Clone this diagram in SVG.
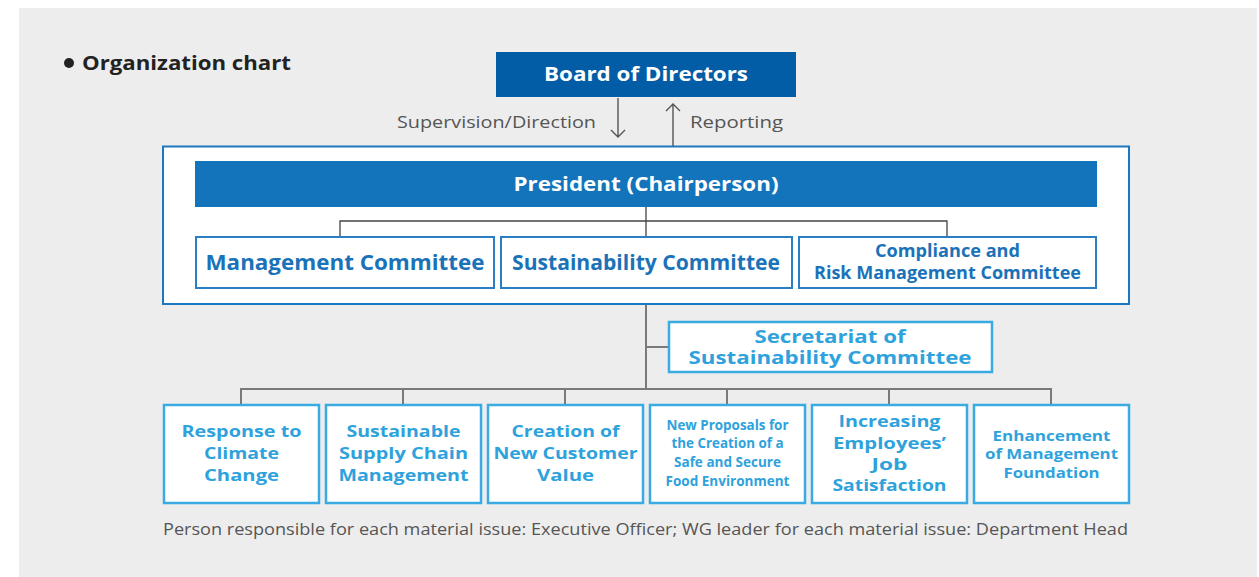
<svg xmlns="http://www.w3.org/2000/svg" width="1259" height="577" viewBox="0 0 1259 577">
  <defs>
    <style>
      .bold { font-family: "Open Sans", "Liberation Sans", sans-serif; font-weight: 700; }
      .reg { font-family: "Open Sans", "Liberation Sans", sans-serif; font-weight: 400; }
      .white { fill: #ffffff; }
      .dk { fill: #1a72b9; }
      .lt { fill: #2ea2dc; }
      .gray { fill: #555555; }
      .cbox { fill: #ffffff; stroke: #2a7fc4; stroke-width: 2; }
      .ibox { fill: #ffffff; stroke: #3aabe2; stroke-width: 2.5; }
      .inner { fill: none; stroke: #444444; stroke-width: 1.3; }
      .outer { fill: none; stroke: #7a7a7a; stroke-width: 2; }
      .arr { fill: none; stroke: #555555; stroke-width: 1.4; }
    </style>
  </defs>

  <!-- page background -->
  <rect x="0" y="0" width="1259" height="577" fill="#ffffff"/>
  <rect x="19" y="8" width="1238" height="569" fill="#ededed"/>

  <!-- heading -->
  <g id="heading">
    <circle cx="69" cy="63" r="5" fill="#222222"/>
    <text class="bold" x="82" y="70" font-size="19" fill="#222222" textLength="209" lengthAdjust="spacingAndGlyphs">Organization chart</text>
  </g>

  <!-- executive frame (drawn first so the connectors sit on top of it) -->
  <g id="executive-frame">
    <rect x="163" y="146.5" width="966" height="157.5" fill="#ffffff" stroke="#1d77bf" stroke-width="2"/>
  </g>

  <!-- connectors -->
  <g id="connectors">
    <!-- supervision / reporting arrows -->
    <path class="arr" d="M618 98 V137 M611 130 L618 137 L625 130"/>
    <path class="arr" d="M673 146 V104 M666 111 L673 104 L680 111"/>
    <!-- president to committees -->
    <path class="inner" d="M646 207 V236 M340 236 V221 H947 V236"/>
    <!-- frame to secretariat and material issue teams -->
    <path class="outer" d="M646 305 V389 M646 347 H669"/>
    <path class="outer" d="M241 404 V389 H1051 V404 M403 389 V404 M565 389 V404 M727 389 V404 M889 389 V404"/>
  </g>

  <g id="board">
    <rect x="496" y="52" width="300" height="45" fill="#035da6"/>
    <text class="bold white" x="646" y="81" font-size="20" text-anchor="middle" textLength="204" lengthAdjust="spacingAndGlyphs">Board of Directors</text>
  </g>

  <g id="arrow-labels">
    <text class="reg gray" x="596" y="128" font-size="17" text-anchor="end" textLength="199" lengthAdjust="spacingAndGlyphs">Supervision/Direction</text>
    <text class="reg gray" x="690" y="128" font-size="17" textLength="93" lengthAdjust="spacingAndGlyphs">Reporting</text>
  </g>

  <g id="president">
    <rect x="195" y="161" width="902" height="46" fill="#1374bb"/>
    <text class="bold white" x="646" y="191" font-size="20" text-anchor="middle" textLength="265" lengthAdjust="spacingAndGlyphs">President (Chairperson)</text>
  </g>

  <g id="management-committee">
    <rect class="cbox" x="196" y="237" width="298" height="51"/>
    <text class="bold dk" x="345" y="270" font-size="21" text-anchor="middle" textLength="279" lengthAdjust="spacingAndGlyphs">Management Committee</text>
  </g>

  <g id="sustainability-committee">
    <rect class="cbox" x="501" y="237" width="291" height="51"/>
    <text class="bold dk" x="646" y="270" font-size="21" text-anchor="middle" textLength="268" lengthAdjust="spacingAndGlyphs">Sustainability Committee</text>
  </g>

  <g id="compliance-committee">
    <rect class="cbox" x="799" y="237" width="297" height="51"/>
    <text class="bold dk" x="947.5" y="257" font-size="17" text-anchor="middle" textLength="145" lengthAdjust="spacingAndGlyphs">Compliance and</text>
    <text class="bold dk" x="947.5" y="279" font-size="17" text-anchor="middle" textLength="267" lengthAdjust="spacingAndGlyphs">Risk Management Committee</text>
  </g>

  <g id="secretariat">
    <rect class="ibox" x="669" y="322" width="323" height="50"/>
    <text class="bold lt" x="830" y="342.5" font-size="17" text-anchor="middle" textLength="151" lengthAdjust="spacingAndGlyphs">Secretariat of</text>
    <text class="bold lt" x="830" y="364" font-size="17" text-anchor="middle" textLength="283" lengthAdjust="spacingAndGlyphs">Sustainability Committee</text>
  </g>

  <!-- material issue working groups -->
  <g id="climate-change">
    <rect class="ibox" x="164" y="405" width="155" height="98"/>
    <text class="bold lt" x="241.5" y="437" font-size="16.5" text-anchor="middle" textLength="120" lengthAdjust="spacingAndGlyphs">Response to</text>
    <text class="bold lt" x="241.5" y="459" font-size="16.5" text-anchor="middle" textLength="75" lengthAdjust="spacingAndGlyphs">Climate</text>
    <text class="bold lt" x="241.5" y="481" font-size="16.5" text-anchor="middle" textLength="75" lengthAdjust="spacingAndGlyphs">Change</text>
  </g>

  <g id="supply-chain">
    <rect class="ibox" x="326" y="405" width="155" height="98"/>
    <text class="bold lt" x="403.5" y="437" font-size="16.5" text-anchor="middle" textLength="114" lengthAdjust="spacingAndGlyphs">Sustainable</text>
    <text class="bold lt" x="403.5" y="459" font-size="16.5" text-anchor="middle" textLength="129" lengthAdjust="spacingAndGlyphs">Supply Chain</text>
    <text class="bold lt" x="403.5" y="481" font-size="16.5" text-anchor="middle" textLength="130" lengthAdjust="spacingAndGlyphs">Management</text>
  </g>

  <g id="customer-value">
    <rect class="ibox" x="488" y="405" width="155" height="98"/>
    <text class="bold lt" x="565.5" y="437" font-size="16.5" text-anchor="middle" textLength="108" lengthAdjust="spacingAndGlyphs">Creation of</text>
    <text class="bold lt" x="565.5" y="459" font-size="16.5" text-anchor="middle" textLength="144" lengthAdjust="spacingAndGlyphs">New Customer</text>
    <text class="bold lt" x="565.5" y="481" font-size="16.5" text-anchor="middle" textLength="57" lengthAdjust="spacingAndGlyphs">Value</text>
  </g>

  <g id="food-environment">
    <rect class="ibox" x="650" y="405" width="155" height="98"/>
    <text class="bold lt" x="727.5" y="430" font-size="13.5" text-anchor="middle" textLength="122" lengthAdjust="spacingAndGlyphs">New Proposals for</text>
    <text class="bold lt" x="727.5" y="448" font-size="13.5" text-anchor="middle" textLength="112" lengthAdjust="spacingAndGlyphs">the Creation of a</text>
    <text class="bold lt" x="727.5" y="467" font-size="13.5" text-anchor="middle" textLength="107" lengthAdjust="spacingAndGlyphs">Safe and Secure</text>
    <text class="bold lt" x="727.5" y="486" font-size="13.5" text-anchor="middle" textLength="124" lengthAdjust="spacingAndGlyphs">Food Environment</text>
  </g>

  <g id="job-satisfaction">
    <rect class="ibox" x="812" y="405" width="155" height="98"/>
    <text class="bold lt" x="889.5" y="427" font-size="16.5" text-anchor="middle" textLength="102" lengthAdjust="spacingAndGlyphs">Increasing</text>
    <text class="bold lt" x="889.5" y="449" font-size="16.5" text-anchor="middle" textLength="113" lengthAdjust="spacingAndGlyphs">Employees’</text>
    <text class="bold lt" x="889.5" y="470" font-size="16.5" text-anchor="middle" textLength="36" lengthAdjust="spacingAndGlyphs">Job</text>
    <text class="bold lt" x="889.5" y="491" font-size="16.5" text-anchor="middle" textLength="114" lengthAdjust="spacingAndGlyphs">Satisfaction</text>
  </g>

  <g id="management-foundation">
    <rect class="ibox" x="974" y="405" width="155" height="98"/>
    <text class="bold lt" x="1051.5" y="441" font-size="14.5" text-anchor="middle" textLength="118" lengthAdjust="spacingAndGlyphs">Enhancement</text>
    <text class="bold lt" x="1051.5" y="459" font-size="14.5" text-anchor="middle" textLength="133" lengthAdjust="spacingAndGlyphs">of Management</text>
    <text class="bold lt" x="1051.5" y="478" font-size="14.5" text-anchor="middle" textLength="96" lengthAdjust="spacingAndGlyphs">Foundation</text>
  </g>

  <!-- footnote -->
  <g id="footnote">
    <text class="reg gray" x="163" y="535" font-size="17" textLength="965" lengthAdjust="spacingAndGlyphs">Person responsible for each material issue: Executive Officer; WG leader for each material issue: Department Head</text>
  </g>
</svg>
